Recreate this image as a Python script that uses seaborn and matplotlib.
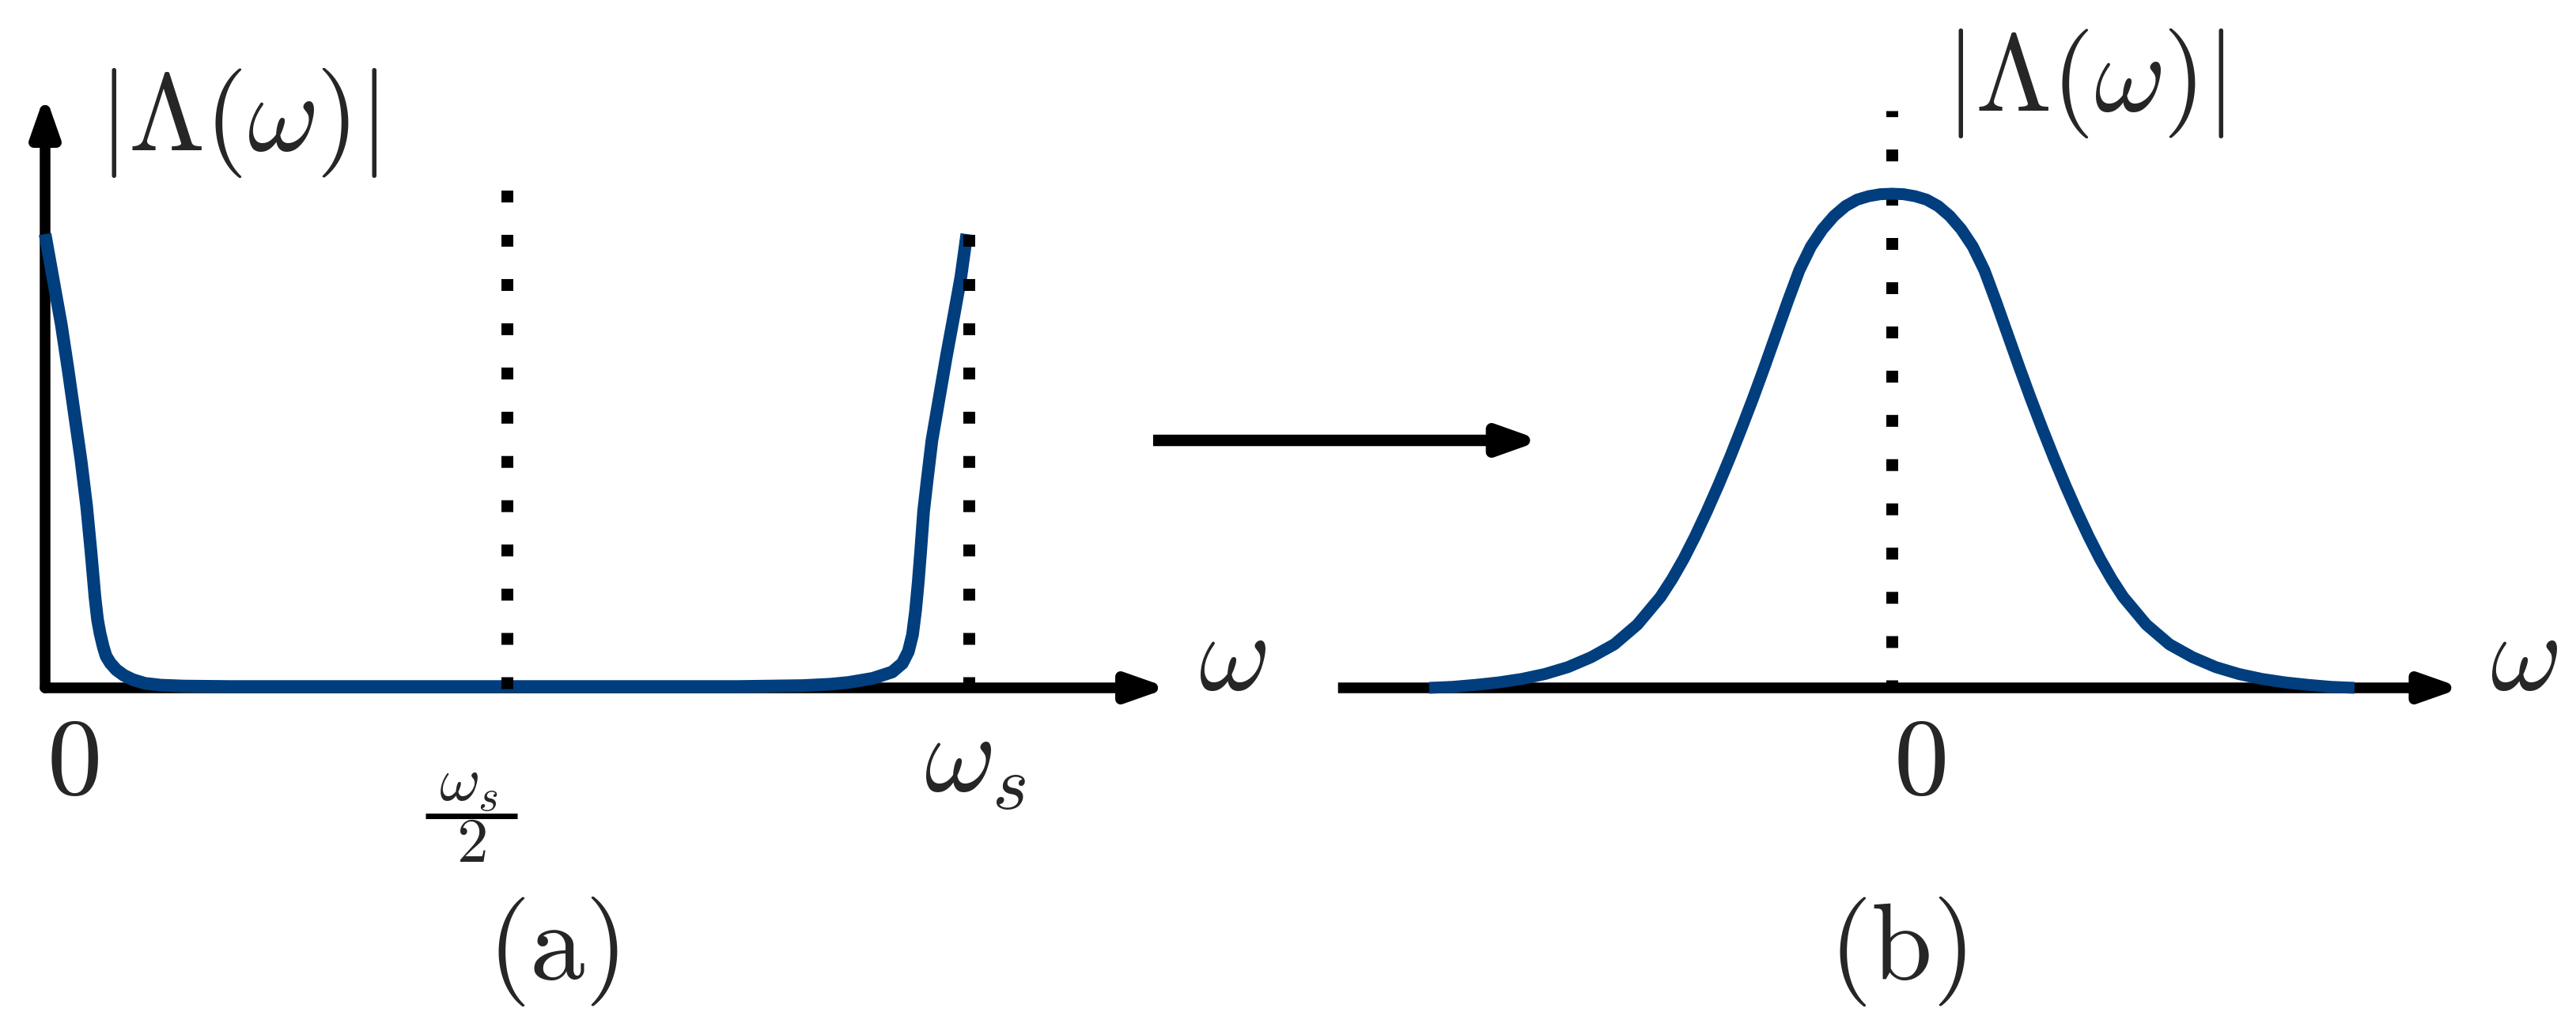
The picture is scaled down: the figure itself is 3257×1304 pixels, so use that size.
import matplotlib
matplotlib.use("Agg")
import matplotlib.pyplot as plt
import seaborn as sns
from matplotlib.lines import Line2D
from matplotlib.transforms import IdentityTransform

W, H, DPI = 3257, 1304, 100
PT = 72 / DPI  # points per output pixel

# (a) |Lambda(omega)| over one period, omega in units of omega_s
omega_a = [0.0000, 0.0088, 0.0176, 0.0250, 0.0320, 0.0390, 0.0450, 0.0497,
           0.0540, 0.0568, 0.0595, 0.0630, 0.0660, 0.0705, 0.0770, 0.0850,
           0.0950, 0.1080, 0.1250, 0.1500, 0.2000, 0.5000, 0.7500, 0.8200,
           0.8500, 0.8700, 0.8960, 0.9170, 0.9280, 0.9345, 0.9390, 0.9423,
           0.9452, 0.9478, 0.9510, 0.9550, 0.9600, 0.9680, 0.9758, 0.9837,
           0.9914, 0.9978]
lam_a = [1.000, 0.900, 0.800, 0.700, 0.600, 0.500, 0.400, 0.300,
         0.200, 0.150, 0.120, 0.090, 0.070, 0.055, 0.040, 0.028,
         0.018, 0.010, 0.006, 0.004, 0.003, 0.003, 0.003, 0.005,
         0.008, 0.012, 0.021, 0.035, 0.054, 0.080, 0.117, 0.170,
         0.233, 0.300, 0.389, 0.460, 0.545, 0.640, 0.732, 0.819,
         0.906, 1.000]
ticks_a = [0.0, 0.5, 1.0]
ticklabels_a = [r"$0$", (r"$\omega_s$", r"$2$"), r"$\omega_s$"]
guides_a = [0.5, 1.0]
guide_tops_a = [1.098, 1.0]

# (b) shifted spectrum centred on zero
omega_b = [-1.000, -0.950, -0.900, -0.850, -0.800, -0.750, -0.700, -0.650,
           -0.600, -0.550, -0.500, -0.475, -0.450, -0.425, -0.400, -0.375,
           -0.350, -0.325, -0.300, -0.275, -0.250, -0.225, -0.200, -0.175,
           -0.150, -0.125, -0.100, -0.075, -0.050, -0.025, 0.000, 0.025,
           0.050, 0.075, 0.100, 0.125, 0.150, 0.175, 0.200, 0.225,
           0.250, 0.275, 0.300, 0.325, 0.350, 0.375, 0.400, 0.425,
           0.450, 0.475, 0.500, 0.550, 0.600, 0.650, 0.700, 0.750,
           0.800, 0.850, 0.900, 0.950, 1.000]
lam_b = [0.000, 0.002, 0.006, 0.011, 0.018, 0.028, 0.042, 0.062,
         0.088, 0.128, 0.184, 0.220, 0.261, 0.307, 0.357, 0.410,
         0.466, 0.525, 0.586, 0.650, 0.716, 0.782, 0.845, 0.893,
         0.928, 0.955, 0.975, 0.988, 0.995, 0.999, 1.000, 0.999,
         0.995, 0.988, 0.975, 0.955, 0.928, 0.893, 0.845, 0.782,
         0.716, 0.650, 0.586, 0.525, 0.466, 0.410, 0.357, 0.307,
         0.261, 0.220, 0.184, 0.128, 0.088, 0.062, 0.042, 0.028,
         0.018, 0.011, 0.006, 0.002, 0.000]
ticks_b = [0.0]
ticklabels_b = [r"$0$"]
guides_b = [0.0]
guide_tops_b = [1.168]

BLUE = "#003e7e"
FS = 100
FS_FRAC = 57

# layout (pixels from top-left of the output)
A_ORIGIN, A_SCALE = (57, 870), (1168, 574)
B_ORIGIN, B_SCALE = (2392, 870), (585, 625)
A_XEND, A_YEND = 1.2163, 1.3077
B_XSTART, B_XEND = -1.197, 1.2325


def panel_axes(fig, origin, scale):
    x0, y0 = origin
    sx, sy = scale
    ax = fig.add_axes([0, 0, 1, 1])
    ax.set_xlim(-x0 / sx, (W - x0) / sx)
    ax.set_ylim(-(H - y0) / sy, y0 / sy)
    ax.set_axis_off()
    ax.patch.set_alpha(0)
    return ax


def arrow(ax, start, end, coords="data", lw=13.5, head_len=54, head_h=42, cap="butt"):
    lp = head_len - lw
    wp = head_h / 2 - lw / 2
    style = f"-|>,head_length={lp * PT:.2f},head_width={wp * PT:.2f}"
    ax.annotate("", xy=end, xytext=start, xycoords=coords, textcoords=coords,
                arrowprops=dict(arrowstyle=style, mutation_scale=1, lw=lw * PT,
                                color="black", shrinkA=0, shrinkB=0,
                                capstyle=cap, joinstyle="round"), zorder=3)


def guides(ax, xs, tops, bottom, z):
    for x, top in zip(xs, tops):
        ax.vlines(x, bottom, top, colors="black", linewidth=15 * PT,
                  linestyles=(0, (1, 2.73)), capstyle="butt", zorder=z)


def tick_label(ax, t, lab, dx, dy):
    if isinstance(lab, tuple):
        # stacked fraction: numerator, rule, denominator
        num, den = lab
        ax.annotate(num, xy=(t, 0), xytext=((dx - 4) * PT, (dy + 19) * PT),
                    textcoords="offset points", ha="center", va="baseline",
                    fontsize=FS_FRAC)
        ax.annotate(den, xy=(t, 0), xytext=(dx * PT, (dy - 58) * PT),
                    textcoords="offset points", ha="center", va="baseline",
                    fontsize=FS_FRAC)
        px, py = ax.transData.transform((t, 0))
        fig.add_artist(Line2D([px + dx - 58, px + dx + 58], [py + dy, py + dy],
                              transform=IdentityTransform(), color="black",
                              linewidth=7 * PT, solid_capstyle="butt"))
    else:
        ax.annotate(lab, xy=(t, 0), xytext=(dx * PT, dy * PT),
                    textcoords="offset points", ha="center", va="baseline",
                    fontsize=FS)


sns.set_theme(style="white")
plt.rcParams["mathtext.fontset"] = "cm"

fig = plt.figure(figsize=(W / DPI, H / DPI), dpi=DPI)
ax_a = panel_axes(fig, A_ORIGIN, A_SCALE)
ax_b = panel_axes(fig, B_ORIGIN, B_SCALE)

# panel (a)
arrow(ax_a, (0, 0), (0, A_YEND), cap="round")
arrow(ax_a, (0, 0), (A_XEND, 0), cap="round")
sns.lineplot(x=omega_a, y=lam_a, ax=ax_a, color=BLUE, linewidth=16 * PT,
             estimator=None, sort=False, solid_capstyle="butt",
             solid_joinstyle="round", zorder=4)
guides(ax_a, guides_a, guide_tops_a, -0.002, 5)

offs_a = [(35, -134), (-45, -162), (8, -130)]
for t, lab, (dx, dy) in zip(ticks_a, ticklabels_a, offs_a):
    tick_label(ax_a, t, lab, dx, dy)

# panel (b)
arrow(ax_b, (B_XSTART, 0), (B_XEND, 0), cap="butt")
guides(ax_b, guides_b, guide_tops_b, -0.008, 4)
sns.lineplot(x=omega_b, y=lam_b, ax=ax_b, color=BLUE, linewidth=15 * PT,
             estimator=None, sort=False, solid_capstyle="butt",
             solid_joinstyle="round", zorder=5)
for t, lab in zip(ticks_b, ticklabels_b):
    tick_label(ax_b, t, lab, 35, -134)

# transition arrow between the panels
arrow(ax_b, (1458, H - 557), (1949, H - 557), coords="figure pixels",
      lw=14.5, head_len=56, head_h=44)


def label(x, y, s):
    fig.text(x / W, 1 - y / H, s, ha="center", va="baseline", fontsize=FS)


label(301, 190, r"$|\Lambda(\omega)|$")
label(2636, 140, r"$|\Lambda(\omega)|$")
label(1558, 872, r"$\omega$")
label(3191, 872, r"$\omega$")
label(699, 1238, r"$(\mathrm{a})$")
label(2399, 1238, r"$(\mathrm{b})$")

fig.savefig("out.png", dpi=DPI, facecolor="white")
